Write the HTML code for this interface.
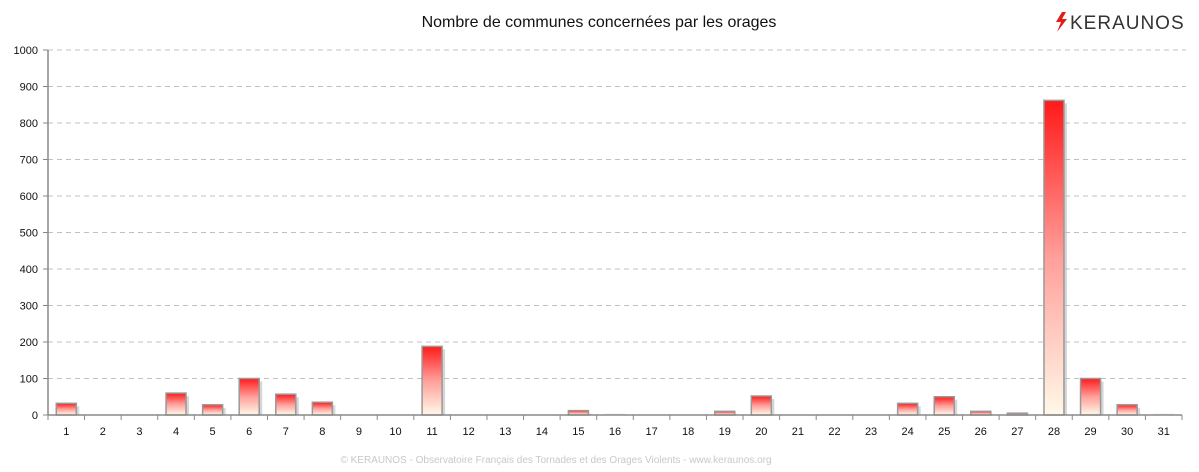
<!DOCTYPE html>
<html><head><meta charset="utf-8"><style>
body{margin:0;background:#fff;}
svg{display:block;font-family:"Liberation Sans",sans-serif;}
</style></head><body>
<svg width="1199" height="472" viewBox="0 0 1199 472">
<defs>
<linearGradient id="g" x1="0" y1="0" x2="0" y2="1">
<stop offset="0" stop-color="#ff1a1a"/><stop offset="0.5" stop-color="#ff9f9a"/><stop offset="1" stop-color="#fff8e8"/>
</linearGradient>
</defs>
<text x="599" y="27" text-anchor="middle" font-size="16" fill="#111">Nombre de communes concernées par les orages</text>
<g>
<path d="M1062 12 L1056 22 L1061 22 L1057 32 L1067 19 L1062 19 L1066 12 Z" fill="#e21b1b"/>
<text x="1070" y="29" font-size="19" fill="#333" letter-spacing="1">KERAUNOS</text>
</g>
<g id="grid"></g><g id="bars"></g><g id="axes"></g>
<text x="556" y="463" text-anchor="middle" font-size="10" fill="#c8c8c8">© KERAUNOS - Observatoire Français des Tornades et des Orages Violents - www.keraunos.org</text>
</svg>
<script>
const categories=[1,2,3,4,5,6,7,8,9,10,11,12,13,14,15,16,17,18,19,20,21,22,23,24,25,26,27,28,29,30,31];
const values=[32,0,0,60,28,100,57,35,0,0,188,0,0,0,12,2,0,0,10,52,0,0,0,32,50,10,5,862,100,28,2];
const yTicks=[0,100,200,300,400,500,600,700,800,900,1000];
const NS="http://www.w3.org/2000/svg";
const x0=48,x1=1182,yb=415,yt=50,ymax=1000;
const bw=(x1-x0)/categories.length;
const y=v=>yb-(v/ymax)*(yb-yt);
const xc=i=>x0+bw*(i+0.5);
function mk(t,a,p){const e=document.createElementNS(NS,t);for(const k in a)e.setAttribute(k,a[k]);p.appendChild(e);return e;}
const grid=document.getElementById('grid'),bars=document.getElementById('bars'),axes=document.getElementById('axes');
yTicks.forEach(v=>{
 if(v>0){const l=mk('line',{x1:x0,x2:1186,y1:y(v),y2:y(v),stroke:'#c0c0c0','stroke-dasharray':'5,4'},grid);
 
 }
 const t=mk('text',{x:38,y:y(v)+4,'text-anchor':'end','font-size':'11',fill:'#111'},axes);
 t.textContent=v;
 
 
});
values.forEach((v,i)=>{
 const w=20,h=yb-y(v);
 if(h>=1){
 const s=mk('rect',{x:xc(i)-w/2+3,y:yb-h+3,width:w,height:Math.max(h-3,0),fill:'#bbb',opacity:0.6},bars);
 
 
 }
 const r=mk('rect',{x:xc(i)-w/2,y:yb-h,width:w,height:h,fill:'url(#g)',stroke:h>=1?'#999':'#e4e4e4','stroke-width':h>=1?1.5:1},bars);
 
 
 const t=mk('text',{x:xc(i),y:435,'text-anchor':'middle','font-size':'11',fill:'#111'},axes);
 t.textContent=categories[i];
 
 
});
for(let i=0;i<=categories.length;i++){
 const tk=mk('line',{x1:x0+bw*i,x2:x0+bw*i,y1:yb,y2:yb+5,stroke:'#888'},axes);
 
 
}
const ya=mk('line',{x1:x0,x2:x0,y1:yt,y2:yb,stroke:'#888','stroke-width':1.5},axes);


const xa=mk('line',{x1:x0,x2:x1,y1:yb,y2:yb,stroke:'#888','stroke-width':1.5},axes);


yTicks.forEach(v=>{const tk=mk('line',{x1:x0-5,x2:x0,y1:y(v),y2:y(v),stroke:'#888'},axes);
 
 });
</script>
</body></html>
